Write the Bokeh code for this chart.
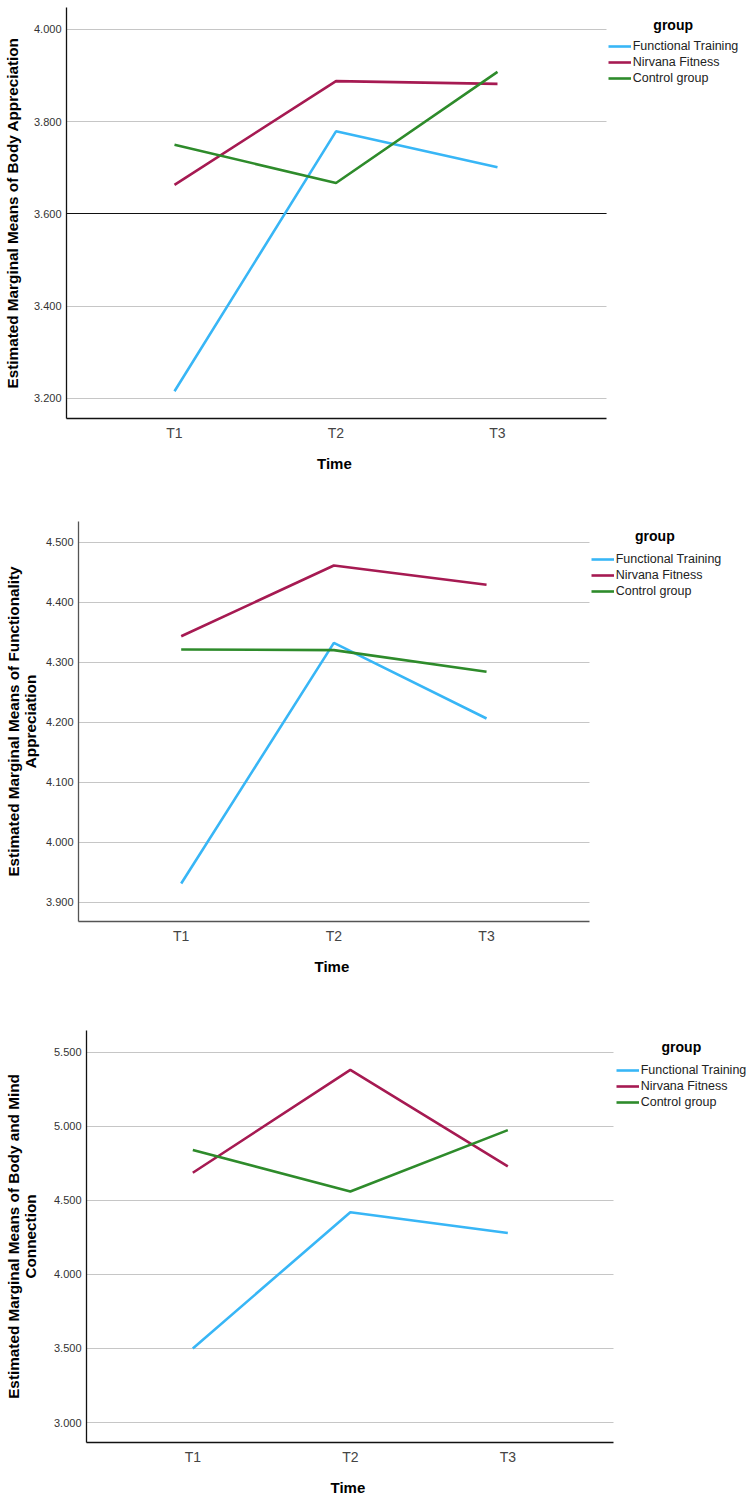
from bokeh.plotting import figure
from bokeh.models import (Range1d, FixedTicker, NumeralTickFormatter, Legend,
                          LegendItem, Label, Grid, Title)
from bokeh.embed import file_html
from bokeh.resources import INLINE

# ---- data -------------------------------------------------------------
times = ["T1", "T2", "T3"]
groups = ["Functional Training", "Nirvana Fitness", "Control group"]
colors = ["#38B6F6", "#A61A52", "#2E8B2B"]

# Estimated marginal means of Body Appreciation
body_ft = [3.215, 3.779, 3.701]
body_nf = [3.663, 3.888, 3.882]
body_cg = [3.750, 3.667, 3.908]
body_ticks = [3.2, 3.4, 3.6, 3.8, 4.0]
body_ref = [3.6]

# Estimated marginal means of Functionality Appreciation
func_ft = [3.931, 4.332, 4.206]
func_nf = [4.343, 4.461, 4.429]
func_cg = [4.321, 4.320, 4.284]
func_ticks = [3.9, 4.0, 4.1, 4.2, 4.3, 4.4, 4.5]

# Estimated marginal means of Body and Mind Connection
mind_ft = [3.499, 4.420, 4.279]
mind_nf = [4.686, 5.381, 4.729]
mind_cg = [4.839, 4.560, 4.974]
mind_ticks = [3.0, 3.5, 4.0, 4.5, 5.0, 5.5]

FONT = "Liberation Sans"
WIDTH = 753
xs = list(range(1, len(times) + 1))


def add_hlines(p, ticks, x_lo, x_hi, color, width):
    """Horizontal rules across the axis span only (legend area stays clear)."""
    g = Grid(dimension=1, ticker=FixedTicker(ticks=ticks),
             grid_line_color=color, grid_line_width=width)
    g.cross_bounds = (x_lo, x_hi)
    p.add_layout(g)


def make_panel(ylabel, series, ticks, yrange, left, top, fh, bottom,
               x0, px_per_unit, axis_w, title_standoff, axis_color,
               legend_xy, group_xy, ref=None):
    fw = WIDTH - left
    x_hi = x0 + fw / px_per_unit          # frame reaches the right edge
    x_axis_end = x0 + axis_w / px_per_unit
    p = figure(frame_width=fw, frame_height=fh,
               x_range=Range1d(x0, x_hi), y_range=Range1d(*yrange),
               min_border_left=left, min_border_right=0,
               min_border_top=top, min_border_bottom=bottom,
               toolbar_location=None, output_backend="svg")
    p.outline_line_color = None
    p.background_fill_color = "white"
    p.border_fill_color = "white"
    p.grid.visible = False

    # x axis: time points
    p.xaxis.ticker = FixedTicker(ticks=xs)
    p.xaxis.major_label_overrides = {x: t for x, t in zip(xs, times)}
    p.xaxis.bounds = (x0, x_axis_end)
    p.xaxis.major_label_text_font = FONT
    p.xaxis.major_label_text_font_size = "14px"
    p.xaxis.major_label_text_color = "#444444"
    p.xaxis.major_label_standoff = 6

    # x axis title, centred under the axis span
    time_w = 35
    p.add_layout(Title(text="Time", align="left",
                       offset=axis_w / 2 - 2 - time_w / 2, standoff=18,
                       text_font=FONT, text_font_size="15px",
                       text_font_style="bold", text_color="black"), "below")

    # y axis: estimated means
    p.yaxis.ticker = FixedTicker(ticks=ticks)
    p.yaxis.formatter = NumeralTickFormatter(format="0.000")
    p.yaxis.axis_label = ylabel
    p.yaxis.axis_label_text_font = FONT
    p.yaxis.axis_label_text_font_size = "15.3px"
    p.yaxis.axis_label_text_font_style = "bold"
    p.yaxis.axis_label_text_color = "black"
    p.yaxis.axis_label_text_line_height = 1.0
    p.yaxis.axis_label_standoff = title_standoff
    p.yaxis.major_label_text_font = FONT
    p.yaxis.major_label_text_font_size = "11px"
    p.yaxis.major_label_text_color = "#333333"
    p.yaxis.major_label_standoff = 5

    for ax in (p.xaxis, p.yaxis):
        ax.major_tick_line_color = None
        ax.minor_tick_line_color = None
        ax.major_tick_out = 0
        ax.major_tick_in = 0
        ax.minor_tick_out = 0
        ax.minor_tick_in = 0
        ax.axis_line_color = axis_color
        ax.axis_line_width = 1.3

    add_hlines(p, ticks, x0, x_axis_end, "#c6c6c6", 1)
    if ref is not None:
        add_hlines(p, ref, x0, x_axis_end, "#111111", 1.2)

    items = []
    for name, ys, c in zip(groups, series, colors):
        r = p.line(xs, ys, line_color=c, line_width=2.6)
        items.append(LegendItem(label=name, renderers=[r]))

    # legend to the right of the axis span
    legend = Legend(items=items, location=legend_xy,
                    orientation="vertical", padding=0, margin=0, spacing=0,
                    glyph_width=23, glyph_height=16, label_height=16,
                    label_standoff=2, label_text_font=FONT,
                    label_text_font_size="12.5px", label_text_color="#222222",
                    border_line_color=None, background_fill_alpha=0)
    p.add_layout(legend)
    p.add_layout(Label(x=group_xy[0], y=group_xy[1], x_units="screen",
                       y_units="screen", text="group", text_align="center",
                       text_baseline="alphabetic", text_font=FONT,
                       text_font_size="14px", text_font_style="bold",
                       text_color="black"))
    return p


p1 = make_panel("Estimated Marginal Means of Body Appreciation",
                [body_ft, body_nf, body_cg], body_ticks, (3.156, 4.0477),
                left=65, top=7, fh=411, bottom=77,
                x0=0.3313, px_per_unit=161.5, axis_w=540,
                title_standoff=10, axis_color="#111111",
                legend_xy=(541.7, 332), group_xy=(606.7, 393.5), ref=body_ref)
p2 = make_panel("Estimated Marginal Means of Functionality\nAppreciation",
                [func_ft, func_nf, func_cg], func_ticks, (3.8677, 4.5343),
                left=78, top=26, fh=400, bottom=74,
                x0=0.3273, px_per_unit=152.67, axis_w=511,
                title_standoff=4, axis_color="#555555",
                legend_xy=(512.7, 321.7), group_xy=(576.4, 385.2))
p3 = make_panel("Estimated Marginal Means of Body and Mind\nConnection",
                [mind_ft, mind_nf, mind_cg], mind_ticks, (2.865, 5.6465),
                left=86, top=35, fh=412, bottom=60,
                x0=0.325, px_per_unit=157.5, axis_w=527,
                title_standoff=12, axis_color="#111111",
                legend_xy=(529.7, 332), group_xy=(594.9, 395.6))

# the three panels are stacked as separate roots so each keeps its own frame
open("out.html", "w").write(file_html([p1, p2, p3], INLINE))
